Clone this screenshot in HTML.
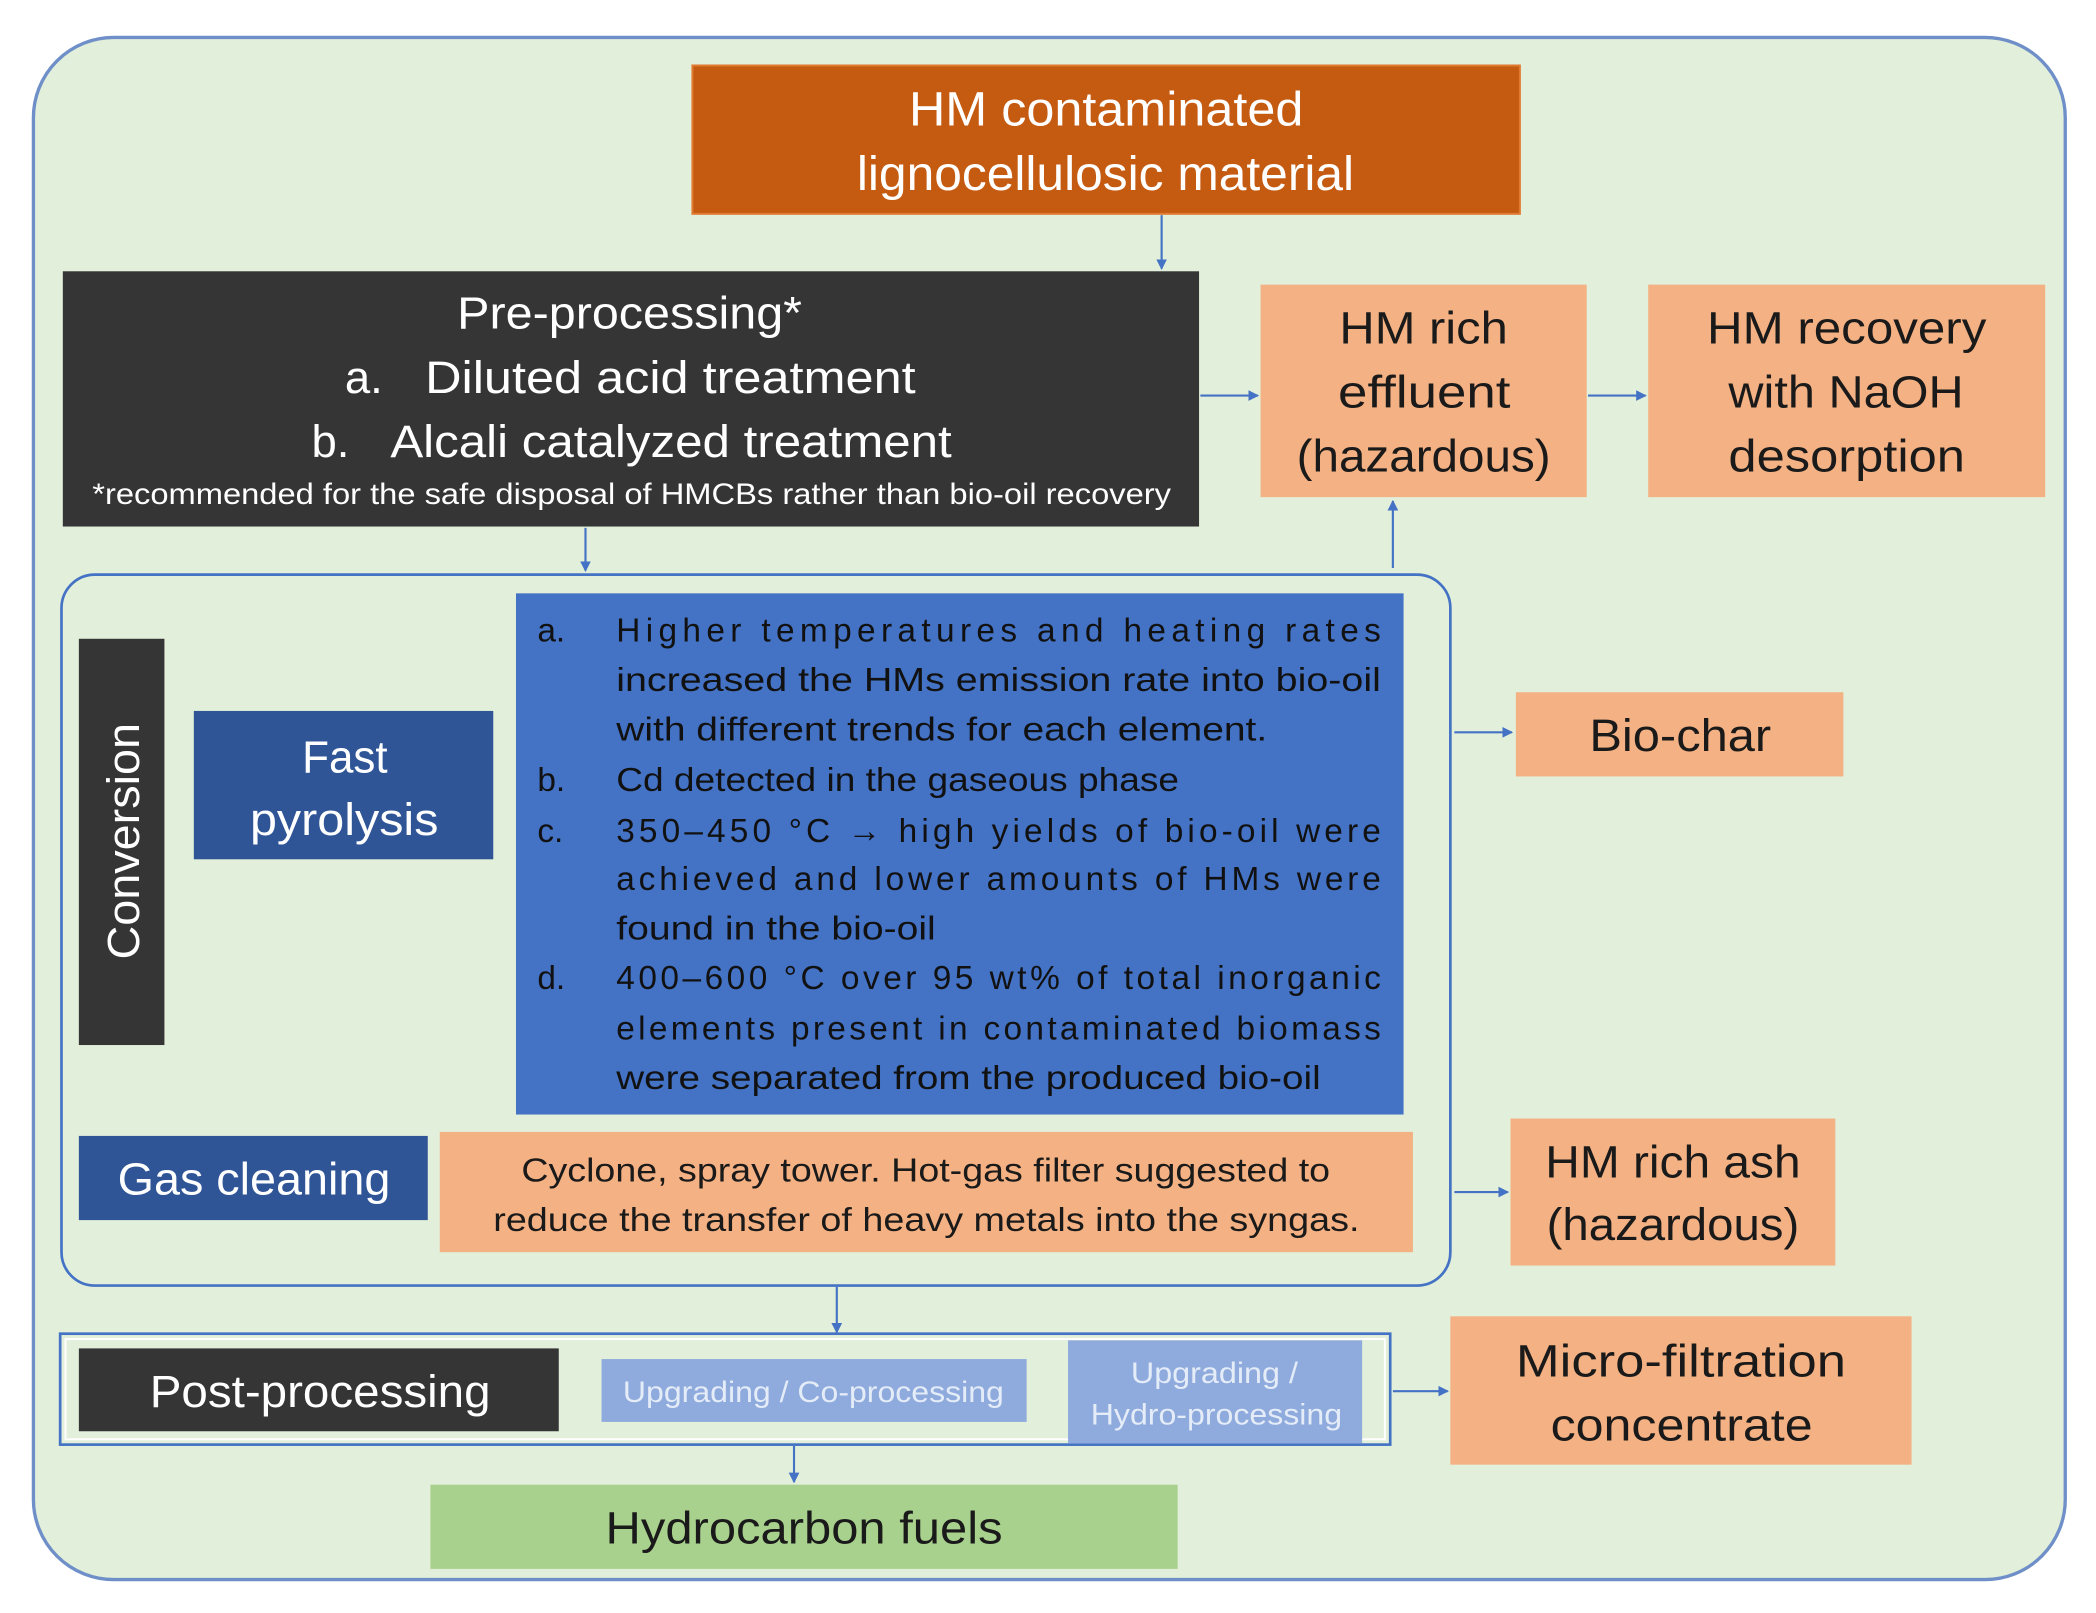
<!DOCTYPE html>
<html><head><meta charset="utf-8"><style>html,body{margin:0;padding:0;background:#fff}svg{display:block}text{font-family:"Liberation Sans",sans-serif}</style></head><body>
<svg width="2096" height="1613" viewBox="0 0 1568 1207" preserveAspectRatio="none" xmlns="http://www.w3.org/2000/svg">
<defs><marker id="a" markerWidth="8" markerHeight="8" refX="7" refY="4" orient="auto" markerUnits="userSpaceOnUse"><path d="M0,0 L8,4 L0,8 Z" fill="#4472c4"/></marker></defs>
<rect x="25" y="28" width="1520" height="1154" rx="60" fill="#e2efda" stroke="#6f8fc9" stroke-width="2.5"/>
<g stroke="#4472c4" stroke-width="1.6" fill="none" marker-end="url(#a)">
<line x1="869" y1="161" x2="869" y2="201"/><line x1="898" y1="296" x2="941" y2="296"/><line x1="1188" y1="296" x2="1231" y2="296"/>
<line x1="1042" y1="425" x2="1042" y2="375"/><line x1="438" y1="395" x2="438" y2="427"/><line x1="1088" y1="548" x2="1131" y2="548"/>
<line x1="1088" y1="892" x2="1128" y2="892"/><line x1="626" y1="963" x2="626" y2="997"/><line x1="1042" y1="1041" x2="1083" y2="1041"/><line x1="594" y1="1082" x2="594" y2="1109"/>
</g>
<rect x="518" y="49" width="619" height="111" fill="#c55a11" stroke="#e07a30" stroke-width="1.5"/>
<g fill="#fff" font-size="36"><text x="680" y="94" textLength="295" lengthAdjust="spacingAndGlyphs">HM contaminated</text><text x="641" y="142" textLength="372" lengthAdjust="spacingAndGlyphs">lignocellulosic material</text></g>
<rect x="47" y="203" width="850" height="191" fill="#353535"/>
<g fill="#fff" font-size="34"><text x="342" y="246" textLength="258" lengthAdjust="spacingAndGlyphs">Pre-processing*</text><text x="258" y="294">a.</text><text x="318" y="294" textLength="367" lengthAdjust="spacingAndGlyphs">Diluted acid treatment</text><text x="233" y="342">b.</text><text x="292" y="342" textLength="420" lengthAdjust="spacingAndGlyphs">Alcali catalyzed treatment</text><text x="69" y="377" font-size="22" textLength="807" lengthAdjust="spacingAndGlyphs">*recommended for the safe disposal of HMCBs rather than bio-oil recovery</text></g>
<rect x="943" y="213" width="244" height="159" fill="#f4b183"/><rect x="1233" y="213" width="297" height="159" fill="#f4b183"/>
<g fill="#1a1a1a" font-size="34"><text x="1002" y="257" textLength="126" lengthAdjust="spacingAndGlyphs">HM rich</text><text x="1001" y="305" textLength="129" lengthAdjust="spacingAndGlyphs">effluent</text><text x="970" y="353" textLength="190" lengthAdjust="spacingAndGlyphs">(hazardous)</text>
<text x="1277" y="257" textLength="209" lengthAdjust="spacingAndGlyphs">HM recovery</text><text x="1293" y="305" textLength="176" lengthAdjust="spacingAndGlyphs">with NaOH</text><text x="1293" y="353" textLength="177" lengthAdjust="spacingAndGlyphs">desorption</text></g>
<rect x="46" y="430" width="1039" height="532" rx="25" fill="none" stroke="#4472c4" stroke-width="2"/>
<rect x="59" y="478" width="64" height="304" fill="#353535"/>
<text transform="translate(104,718) rotate(-90)" fill="#fff" font-size="34" textLength="177" lengthAdjust="spacingAndGlyphs">Conversion</text>
<rect x="145" y="532" width="224" height="111" fill="#2f5597"/>
<g fill="#fff" font-size="34"><text x="226" y="578" textLength="64" lengthAdjust="spacingAndGlyphs">Fast</text><text x="187" y="625" textLength="141" lengthAdjust="spacingAndGlyphs">pyrolysis</text></g>
<rect x="386" y="444" width="664" height="390" fill="#4472c4"/>
<g fill="#111" font-size="25">
<text x="402" y="480">a.</text><text x="461" y="480" textLength="572" lengthAdjust="spacing">Higher temperatures and heating rates</text>
<text x="461" y="517" textLength="572" lengthAdjust="spacingAndGlyphs">increased the HMs emission rate into bio-oil</text>
<text x="461" y="554" textLength="487" lengthAdjust="spacingAndGlyphs">with different trends for each element.</text>
<text x="402" y="592">b.</text><text x="461" y="592" textLength="421" lengthAdjust="spacingAndGlyphs">Cd detected in the gaseous phase</text>
<text x="402" y="630">c.</text><text x="461" y="630" textLength="572" lengthAdjust="spacing">350–450 °C → high yields of bio-oil were</text>
<text x="461" y="666" textLength="572" lengthAdjust="spacing">achieved and lower amounts of HMs were</text>
<text x="461" y="703" textLength="239" lengthAdjust="spacingAndGlyphs">found in the bio-oil</text>
<text x="402" y="740">d.</text><text x="461" y="740" textLength="572" lengthAdjust="spacing">400–600 °C over 95 wt% of total inorganic</text>
<text x="461" y="778" textLength="572" lengthAdjust="spacing">elements present in contaminated biomass</text>
<text x="461" y="815" textLength="527" lengthAdjust="spacingAndGlyphs">were separated from the produced bio-oil</text></g>
<rect x="1134" y="518" width="245" height="63" fill="#f4b183"/>
<text x="1189" y="562" fill="#1a1a1a" font-size="34" textLength="136" lengthAdjust="spacingAndGlyphs">Bio-char</text>
<rect x="59" y="850" width="261" height="63" fill="#2f5597"/>
<text x="88" y="894" fill="#fff" font-size="34" textLength="204" lengthAdjust="spacingAndGlyphs">Gas cleaning</text>
<rect x="329" y="847" width="728" height="90" fill="#f4b183"/>
<g fill="#1a1a1a" font-size="25"><text x="390" y="884" textLength="605" lengthAdjust="spacingAndGlyphs">Cyclone, spray tower. Hot-gas filter suggested to</text><text x="369" y="921" textLength="648" lengthAdjust="spacingAndGlyphs">reduce the transfer of heavy metals into the syngas.</text></g>
<rect x="1130" y="837" width="243" height="110" fill="#f4b183"/>
<g fill="#1a1a1a" font-size="34"><text x="1156" y="881" textLength="191" lengthAdjust="spacingAndGlyphs">HM rich ash</text><text x="1157" y="928" textLength="189" lengthAdjust="spacingAndGlyphs">(hazardous)</text></g>
<rect x="45" y="998" width="995" height="83" fill="none" stroke="#4472c4" stroke-width="2"/>
<rect x="49" y="1002" width="987" height="75" fill="none" stroke="#fff" stroke-width="1.5"/>
<rect x="59" y="1009" width="359" height="62" fill="#353535"/>
<text x="112" y="1053" fill="#fff" font-size="34" textLength="255" lengthAdjust="spacingAndGlyphs">Post-processing</text>
<rect x="450" y="1017" width="318" height="47" fill="#8faadc"/>
<text x="466" y="1049" fill="#e4ecf8" font-size="22" textLength="285" lengthAdjust="spacingAndGlyphs">Upgrading / Co-processing</text>
<rect x="799" y="1003" width="220" height="77" fill="#8faadc"/>
<g fill="#e4ecf8" font-size="22"><text x="846" y="1035" textLength="125" lengthAdjust="spacingAndGlyphs">Upgrading /</text><text x="816" y="1066" textLength="188" lengthAdjust="spacingAndGlyphs">Hydro-processing</text></g>
<rect x="1085" y="985" width="345" height="111" fill="#f4b183"/>
<g fill="#1a1a1a" font-size="34"><text x="1134" y="1030" textLength="247" lengthAdjust="spacingAndGlyphs">Micro-filtration</text><text x="1160" y="1078" textLength="196" lengthAdjust="spacingAndGlyphs">concentrate</text></g>
<rect x="322" y="1111" width="559" height="63" fill="#a9d18e"/>
<text x="453" y="1155" fill="#1a1a1a" font-size="34" textLength="297" lengthAdjust="spacingAndGlyphs">Hydrocarbon fuels</text>
</svg>
</body></html>
